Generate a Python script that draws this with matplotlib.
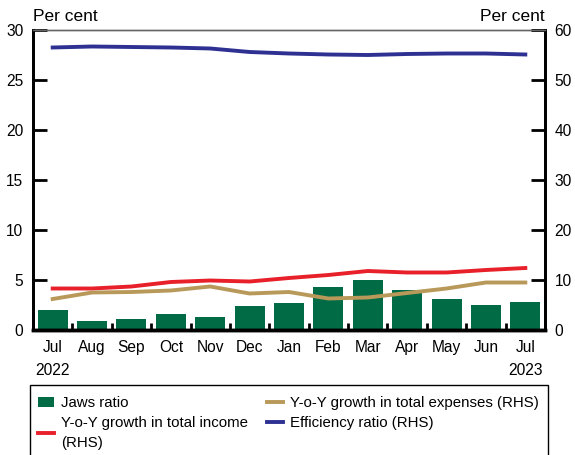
import matplotlib
matplotlib.use("Agg")
import matplotlib.pyplot as plt
from matplotlib.patches import Rectangle

plt.rcParams['font.family'] = ['Liberation Sans', 'DejaVu Sans']
plt.rcParams['font.size'] = 11.2

months = ['Jul', 'Aug', 'Sep', 'Oct', 'Nov', 'Dec', 'Jan', 'Feb', 'Mar', 'Apr', 'May', 'Jun', 'Jul']
jaws = [2.0, 0.9, 1.1, 1.6, 1.3, 2.4, 2.7, 4.3, 5.0, 4.0, 3.1, 2.5, 2.8]
income = [8.3, 8.3, 8.7, 9.6, 9.9, 9.7, 10.4, 11.0, 11.8, 11.5, 11.5, 12.0, 12.4]
expenses = [6.2, 7.5, 7.6, 7.9, 8.7, 7.3, 7.6, 6.3, 6.5, 7.4, 8.3, 9.5, 9.5]
efficiency = [56.5, 56.7, 56.6, 56.5, 56.3, 55.6, 55.3, 55.1, 55.0, 55.2, 55.3, 55.3, 55.1]

green = '#006B45'
red = '#E8202A'
tan = '#B8995A'
blue = '#2E3192'

fig = plt.figure(figsize=(5.75, 4.55), dpi=100)
ax = fig.add_axes([33/575, 1 - 330/455, (545-33)/575, 300/455])
ax2 = ax.twinx()

x = list(range(len(months)))
b = ax.bar(x, jaws, width=0.76, color=green, label='Jaws ratio', zorder=2)
l1, = ax2.plot(x, income, color=red, lw=2.8, label='Y-o-Y growth in total income\n(RHS)')
l2, = ax2.plot(x, expenses, color=tan, lw=2.8, label='Y-o-Y growth in total expenses (RHS)')
l3, = ax2.plot(x, efficiency, color=blue, lw=2.8, label='Efficiency ratio (RHS)')

ax.set_xlim(-0.5, 12.5)
ax.set_ylim(0, 30)
ax2.set_ylim(0, 60)
ax.set_yticks([0, 5, 10, 15, 20, 25, 30])
ax2.set_yticks([0, 10, 20, 30, 40, 50, 60])

ax.set_xticks(x)
ax.set_xticklabels(months)
ax.set_xticks([i + 0.5 for i in range(-1, 13)], minor=True)
ax.tick_params(axis='x', which='major', length=0, pad=7)
ax.tick_params(axis='x', which='minor', direction='in', length=5, width=2)
ax.tick_params(axis='y', direction='in', length=10, width=2, pad=7)
ax2.tick_params(axis='y', direction='in', length=10, width=2, pad=7)

for a in (ax, ax2):
    a.spines['left'].set_linewidth(2)
    a.spines['right'].set_linewidth(2)
    a.spines['bottom'].set_linewidth(2.5)
    a.spines['top'].set_linewidth(1)
    a.spines['top'].set_color('#666666')

ax.text(0, 1.02, 'Per cent', transform=ax.transAxes, ha='left', va='bottom', fontsize=12.5)
ax2.text(1.0, 1.02, 'Per cent', transform=ax.transAxes, ha='right', va='bottom', fontsize=12.5)
ax.text(0, -0.11, '2022', transform=ax.get_xaxis_transform(), ha='center', va='top')
ax.text(12, -0.11, '2023', transform=ax.get_xaxis_transform(), ha='center', va='top')

# legend frame runs off the bottom of the picture
fig.patches.append(Rectangle((30/575, -0.05), 518/575, 0.05 + (455-385)/455,
                             transform=fig.transFigure, fill=False, edgecolor='black', lw=1))
leg = fig.legend([b, l1, l2, l3], [b.get_label(), l1.get_label(), l2.get_label(), l3.get_label()],
                 ncol=2, loc='upper left', bbox_to_anchor=(38/575, 1 - 396/455), frameon=False,
                 handlelength=1.07, handleheight=0.7, handletextpad=0.47, columnspacing=1.27,
                 labelspacing=0.42, borderaxespad=0, borderpad=0, fontsize=10.8)
for t in leg.get_texts():
    t.set_linespacing(1.5)

fig.savefig('out.png', dpi=100)
